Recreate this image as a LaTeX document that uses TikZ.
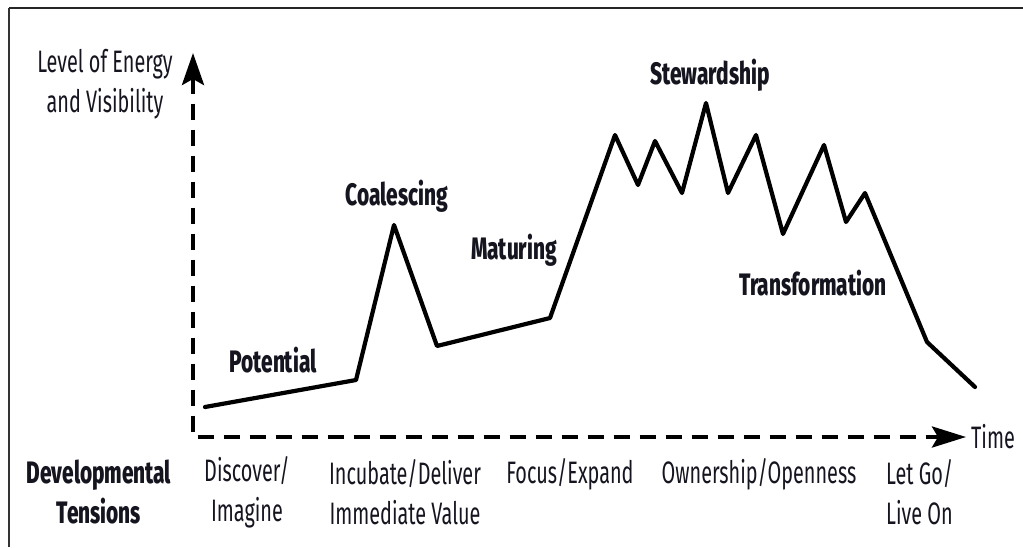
\documentclass[tikz,border=0pt]{standalone}
\usepackage{fontspec}
\setmainfont[FakeStretch=0.64, BoldFont={Fira Sans ExtraBold}, BoldFeatures={FakeStretch=0.672}]{Fira Sans}
\usetikzlibrary{arrows.meta}
\definecolor{txt}{HTML}{151520}
\begin{document}
\begin{tikzpicture}[x=1pt,y=-1pt,
  lbl/.style={inner sep=0pt, text=txt, align=center, font=\fontsize{31}{40}\selectfont},
  ttl/.style={lbl, font=\fontsize{31}{40}\selectfont\bfseries},
  axis/.style={line width=4pt, dash pattern=on 16pt off 10pt},
  curve/.style={line width=4.2pt, line join=round, line cap=round}]
\useasboundingbox (0,0) rectangle (1023,547);
\fill[white] (0,0) rectangle (1023,547);
\draw[line width=1.5pt, black!80] (9,547) -- (9,8);
\draw[line width=1.8pt, black!85] (9,8) -- (1023,8);
% axes
\coordinate (O) at (193,437);
\coordinate (ytip) at (193,53);
\coordinate (xtip) at (966,437);
\draw[axis, {Stealth[length=32pt,width=22pt,inset=6pt]}-{Stealth[length=34pt,width=21pt,inset=6pt]}] (ytip) -- (O) -- (xtip);
% curve points
\coordinate (p1) at (205,407);
\coordinate (p2) at (356,380);
\coordinate (p3) at (394,225);
\coordinate (p4) at (437,346);
\coordinate (p5) at (550,318);
\coordinate (p6) at (615,135);
\coordinate (p7) at (638,185);
\coordinate (p8) at (655,141);
\coordinate (p9) at (682,193);
\coordinate (p10) at (706,103);
\coordinate (p11) at (728,193);
\coordinate (p12) at (756,135);
\coordinate (p13) at (783,234);
\coordinate (p14) at (824,145);
\coordinate (p15) at (846,222);
\coordinate (p16) at (865,193);
\coordinate (p17) at (927,342);
\coordinate (p18) at (975,387);
\draw[curve] (p1) -- (p2) -- (p3) -- (p4) -- (p5) -- (p6) -- (p7) -- (p8) -- (p9) -- (p10) -- (p11) -- (p12) -- (p13) -- (p14) -- (p15) -- (p16) -- (p17) -- (p18);
% labels
\node[lbl] (ylab) at (105,84) {Level of Energy\\and Visibility};
\node[lbl, anchor=west] (time) at (971,437) {Time};
\node[ttl] (stew) at (710,75) {Stewardship};
\node[ttl] (coal) at (397,196) {Coalescing};
\node[ttl] (mat) at (514,250) {Maturing};
\node[ttl] (pot) at (273,360) {Potential};
\node[ttl] (trans) at (813,283) {Transformation};
\node[ttl] (dev) at (99,492) {Developmental\\Tensions};
\node[lbl] (t1) at (247,492) {Discover/\\Imagine};
\node[lbl] (t2) at (405,492) {Incubate/Deliver\\Immediate Value};
\node[lbl, anchor=north] (t3) at (570,458) {Focus/Expand};
\node[lbl, anchor=north] (t4) at (759,458) {Ownership/Openness};
\node[lbl, align=left, anchor=west] (t5) at (886,492) {Let Go/\\Live On};
\end{tikzpicture}
\end{document}
